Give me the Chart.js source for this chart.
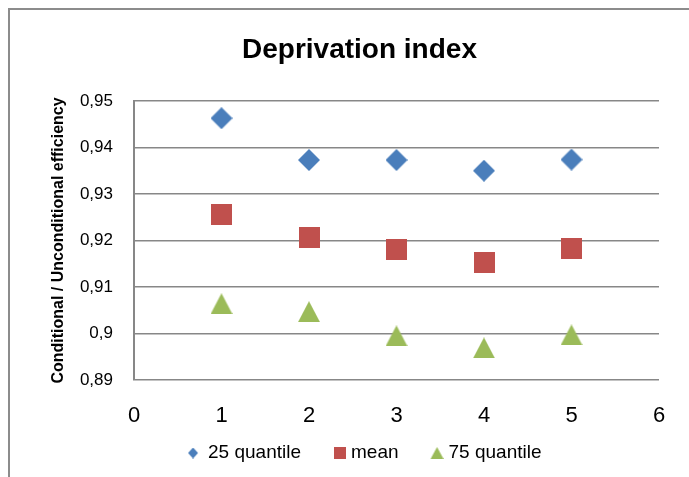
<!DOCTYPE html>
<html>
<head>
<meta charset="utf-8">
<script src="https://cdn.jsdelivr.net/npm/chart.js@4"></script>
<style>
  html, body { margin: 0; padding: 0; background: #fff; }
  #wrap { position: relative; width: 689px; height: 477px; overflow: hidden; }
  #frame { position: absolute; left: 8px; top: 8px; width: 700px; height: 500px; border: 2px solid #8c8c8c; box-sizing: border-box; }
  #c { position: absolute; left: 0; top: 0; }
</style>
</head>
<body>
<div id="wrap">
  <div id="frame"></div>
  <canvas id="c" width="689" height="477"></canvas>
</div>
<script>
// values
const xs = [1, 2, 3, 4, 5];
const q25 = [0.9463, 0.9373, 0.9373, 0.9350, 0.9374];
const meanVals = [0.9256, 0.9207, 0.9180, 0.9153, 0.9182];
const q75 = [0.9064, 0.9047, 0.8995, 0.8969, 0.8997];
const seriesNames = ['25 quantile', 'mean', '75 quantile'];
const colors = ['#4a7ebb', '#c0504d', '#9bbb59'];

const FONT = '"Liberation Sans", Arial, sans-serif';
const GRID = '#878787';

// excel style markers, centred on their bounding box
// cw > w puts the marker near the right end of a wider blank canvas (legend spacing)
function marker(shape, w, h, color, cw, gap) {
  cw = cw || w;
  gap = gap || 0;
  const cv = document.createElement('canvas');
  cv.width = cw;
  cv.height = h;
  const ctx = cv.getContext('2d');
  ctx.fillStyle = color;
  ctx.translate(cw - w - gap, 0);
  ctx.beginPath();
  if (shape == 'diamond') {
    ctx.moveTo(w / 2, 0);
    ctx.lineTo(w, h / 2);
    ctx.lineTo(w / 2, h);
    ctx.lineTo(0, h / 2);
  } else if (shape == 'triangle') {
    ctx.moveTo(w / 2, 0);
    ctx.lineTo(w, h);
    ctx.lineTo(0, h);
  } else {
    ctx.rect(0, 0, w, h);
  }
  ctx.closePath();
  ctx.fill();
  return cv;
}

const bigMarks = [marker('diamond', 22, 22, colors[0]), marker('square', 21, 21, colors[1]), marker('triangle', 22, 21, colors[2])];
const smallMarks = [marker('diamond', 10, 11, colors[0], 34, 5), marker('square', 12, 12, colors[1], 34), marker('triangle', 13, 12, colors[2], 34)];

function pts(vals) {
  return xs.map((x, i) => ({ x: x, y: vals[i] }));
}

const data = {
  datasets: [q25, meanVals, q75].map((vals, i) => ({
    label: seriesNames[i],
    data: pts(vals),
    pointStyle: bigMarks[i],
    backgroundColor: colors[i],
    borderColor: colors[i]
  }))
};

// title and legend sit a bit right of the plot centre in the original
const nudge = {
  id: 'nudge',
  afterLayout(chart) {
    chart.titleBlock.left += 4;
    chart.titleBlock.right += 4;
    chart.legend.left += 2;
    chart.legend.right += 2;
  }
};

const config = {
  type: 'scatter',
  data: data,
  plugins: [nudge],
  options: {
    responsive: false,
    animation: false,
    layout: { padding: { left: 52, right: 30, top: 12, bottom: 4.5 } },
    plugins: {
      tooltip: { enabled: false },
      title: {
        display: true,
        text: 'Deprivation index',
        color: '#000',
        font: { family: FONT, size: 28, weight: 'bold' },
        padding: { top: 21.4, bottom: 34 }
      },
      legend: {
        position: 'bottom',
        labels: {
          usePointStyle: true,
          pointStyleWidth: 25,
          boxHeight: 11,
          padding: 15.5,
          color: '#000',
          font: { family: FONT, size: 19 },
          generateLabels: chart => Chart.defaults.plugins.legend.labels.generateLabels(chart)
            .map((item, i) => Object.assign(item, { pointStyle: smallMarks[i] }))
        }
      }
    },
    scales: {
      x: {
        type: 'linear',
        min: 0,
        max: 6,
        afterFit: s => { s.height = 48; },
        grid: { display: false, drawTicks: false },
        border: { display: false },
        ticks: {
          stepSize: 1,
          padding: 23,
          color: '#000',
          font: { family: FONT, size: 22 }
        }
      },
      y: {
        min: 0.89,
        max: 0.95,
        afterFit: s => { s.width = 82; },
        grid: { color: GRID, lineWidth: 1.5, drawTicks: false },
        border: { display: true, color: GRID, width: 2 },
        title: {
          display: true,
          text: 'Conditional / Unconditional efficiency',
          color: '#000',
          font: { family: FONT, size: 16, weight: 'bold' },
          padding: { top: -3, bottom: 0 }
        },
        ticks: {
          stepSize: 0.01,
          padding: 21,
          color: '#000',
          font: { family: FONT, size: 17 },
          callback: v => String(Math.round(v * 100) / 100).replace('.', ',')
        }
      }
    }
  }
};

const myChart = new Chart(document.getElementById('c'), config);
</script>
</body>
</html>
